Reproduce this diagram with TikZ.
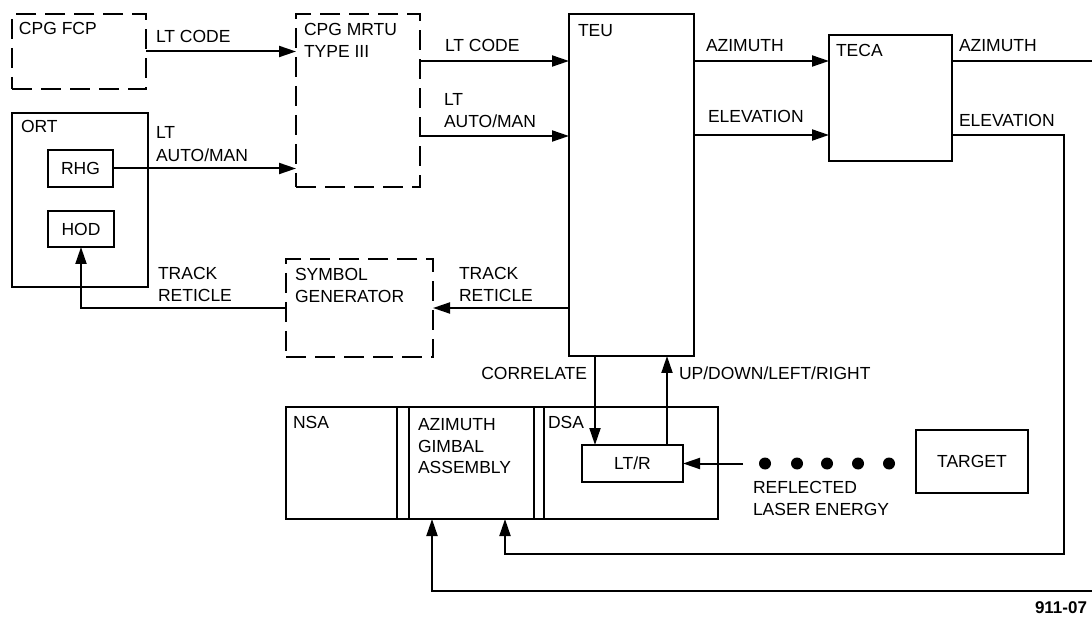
\documentclass[tikz,border=0pt]{standalone}
\usepackage{fontspec}
\setmainfont{Liberation Sans}
\usetikzlibrary{arrows.meta,calc}
\begin{document}
\begin{tikzpicture}[x=1pt,y=-1pt, line width=2pt,
  box/.style={draw, rectangle, inner sep=0pt, outer sep=0pt, anchor=north west},
  dbox/.style={box, dash pattern=on 20pt off 9pt},
  lbl/.style={anchor=base west, inner sep=0pt, font=\fontsize{17.5}{21}\selectfont},
  clbl/.style={inner sep=0pt, font=\fontsize{17.5}{21}\selectfont},
  arr/.style={-{Triangle[length=17pt,width=11pt]}},
  dotmark/.style={fill=black}]
\useasboundingbox (0,0) rectangle (1092,617);
\clip (0,0) rectangle (1092,617);

% boxes
\node[dbox, minimum width=134pt, minimum height=75pt] (fcp) at (12,14) {};
\node[dbox, minimum width=124pt, minimum height=173pt] (mrtu) at (296,14) {};
\node[box, minimum width=136pt, minimum height=174pt] (ort) at (12,113) {};
\node[box, minimum width=65pt, minimum height=37pt] (rhg) at (48,150) {};
\node[box, minimum width=66pt, minimum height=36pt] (hod) at (48,211) {};
\node[dbox, minimum width=147pt, minimum height=98pt] (sym) at (286,259) {};
\node[box, minimum width=125pt, minimum height=342pt] (teu) at (569,14) {};
\node[box, minimum width=123pt, minimum height=126pt] (teca) at (829,35) {};
\node[box, minimum width=432pt, minimum height=112pt] (nsa) at (286,407) {};
\node[box, minimum width=101pt, minimum height=37pt] (ltr) at (582,445) {};
\node[box, minimum width=112pt, minimum height=63pt] (target) at (916,430) {};

% separators in the NSA / gimbal / DSA assembly
\foreach \dx in {111,123,248,258}
  \draw ($(nsa.north west)+(\dx,0)$) -- ($(nsa.south west)+(\dx,0)$);

% box labels
\node[lbl] (tfcp) at (18,35) {CPG FCP};
\node[lbl] (tmrtu1) at (303,36) {CPG MRTU};
\node[lbl] (tmrtu2) at (303,58) {TYPE III};
\node[lbl] (tort) at (20,133) {ORT};
\node[clbl] (trhg) at (rhg.center) {RHG};
\node[clbl] (thod) at (hod.center) {HOD};
\node[lbl] (tsym1) at (294,281) {SYMBOL};
\node[lbl] (tsym2) at (294,303) {GENERATOR};
\node[lbl] (tteu) at (577,37) {TEU};
\node[lbl] (tteca) at (835,57) {TECA};
\node[lbl] (tnsa) at (292,428) {NSA};
\node[lbl] (taga1) at (417,430) {AZIMUTH};
\node[lbl] (taga2) at (417,452) {GIMBAL};
\node[lbl] (taga3) at (417,473) {ASSEMBLY};
\node[lbl] (tdsa) at (547,428) {DSA};
\node[clbl] (tltr) at (ltr.center) {LT/R};
\node[clbl] (ttarget) at (target.center) {TARGET};

% level coordinates
\coordinate (yA) at (0,61);
\coordinate (yB) at (0,136);
\coordinate (yE) at (0,135);
\coordinate (cx) at (595,0);
\coordinate (ux) at (667,0);
\coordinate (eR) at (1064,554);
\coordinate (aR) at (1100,591);
\coordinate (refl) at ($(ltr.east)+(60,0)$);

% connectors
\draw[arr] (fcp.east) -- (fcp.east -| mrtu.west);
\draw[arr] (rhg.east) -- (rhg.east -| mrtu.west);
\draw[arr] (mrtu.east |- yA) -- (teu.west |- yA);
\draw[arr] (mrtu.east |- yB) -- (teu.west |- yB);
\draw[arr] (teu.east |- yA) -- (teca.west |- yA);
\draw[arr] (teu.east |- yE) -- (teca.west |- yE);
\draw[arr] (teu.west |- sym.east) -- (sym.east);
\draw[arr] (sym.west) -| (hod.south);
\draw[arr] (teu.south -| cx) -- (ltr.north -| cx);
\draw[arr] (ltr.north -| ux) -- (teu.south -| ux);
\draw[arr] (refl) -- (ltr.east);
\draw[arr] (teca.east |- yE) -| (eR) -| ($(nsa.south west)+(219,0)$);
\draw[arr] (teca.east |- yA) -| (aR) -| ($(nsa.south west)+(146,0)$);

% reflected laser energy dots
\foreach \x in {765,797,827,858,889}
  \fill[dotmark] (\x,463.5) circle[radius=6pt];

% connector labels
\node[lbl] (lcode1) at (155,43) {LT CODE};
\node[lbl] (lam1a) at (155,139) {LT};
\node[lbl] (lam1b) at (155,162) {AUTO/MAN};
\node[lbl] (ltr1a) at (157,280) {TRACK};
\node[lbl] (ltr1b) at (157,302) {RETICLE};
\node[lbl] (lcode2) at (444,52) {LT CODE};
\node[lbl] (lam2a) at (443,106) {LT};
\node[lbl] (lam2b) at (443,128) {AUTO/MAN};
\node[lbl] (ltr2a) at (458,280) {TRACK};
\node[lbl] (ltr2b) at (458,302) {RETICLE};
\node[lbl] (laz1) at (705,52) {AZIMUTH};
\node[lbl] (lel1) at (707,123) {ELEVATION};
\node[lbl] (laz2) at (958,52) {AZIMUTH};
\node[lbl] (lel2) at (958,127) {ELEVATION};
\node[lbl, anchor=base east] (lcor) at (588,380) {CORRELATE};
\node[lbl] (lup) at (678,380) {UP/DOWN/LEFT/RIGHT};
\node[lbl] (lref1) at (752,493) {REFLECTED};
\node[lbl] (lref2) at (752,515) {LASER ENERGY};
\node[lbl, font=\fontsize{17}{20}\selectfont\bfseries] (lfig) at (1034,613) {911-07};
\end{tikzpicture}
\end{document}
